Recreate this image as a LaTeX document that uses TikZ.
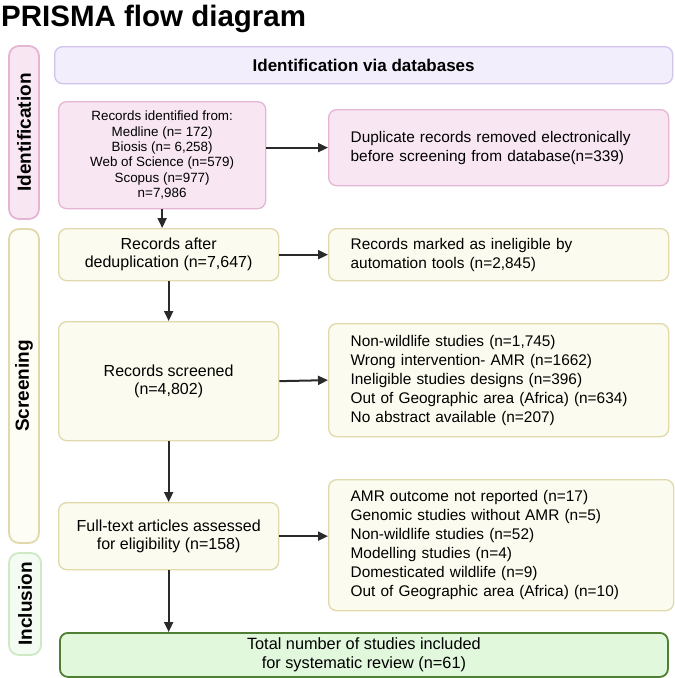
\documentclass[tikz,border=0pt]{standalone}
\usepackage{fontspec}
\setmainfont{Liberation Sans}
\usetikzlibrary{arrows.meta}

\definecolor{idfill}{HTML}{F8E7F2}
\definecolor{iddraw}{HTML}{E4B6D4}
\definecolor{hdfill}{HTML}{F2EEFB}
\definecolor{hddraw}{HTML}{D3C3EF}
\definecolor{scfill}{HTML}{FBFBEF}
\definecolor{scdraw}{HTML}{E1D9AB}
\definecolor{infill}{HTML}{E1F8DD}
\definecolor{indraw}{HTML}{4F7F33}
\definecolor{inband}{HTML}{CDEAC5}
\definecolor{inbandfill}{HTML}{F4FBF2}
\definecolor{arrowgray}{HTML}{2A2A2A}

\begin{document}
\begin{tikzpicture}[x=1pt, y=-1pt,
    >={Triangle[length=10pt,width=9pt]},
    box/.style={draw, rounded corners=8pt, line width=1.3pt, inner sep=0pt,
      align=center, anchor=north west},
    idbox/.style={box, draw=iddraw, fill=idfill},
    scbox/.style={box, draw=scdraw, fill=scfill},
    lefttext/.style={align=left, inner xsep=22pt, text width=#1},
    band/.style={draw, rounded corners=10pt, line width=1.8pt, rotate=90,
      inner sep=0pt, font=\bfseries\fontsize{19}{22}\selectfont},
    flow/.style={->, line width=2pt, draw=arrowgray, fill=arrowgray},
    lbody/.style={font=\fontsize{16}{18}\selectfont},
    rbody/.style={font=\fontsize{15.4}{19}\selectfont}]
    \useasboundingbox (0,0) rectangle (675,678);
    % --- title ---
    \node[anchor=base west, inner sep=0pt, font=\bfseries\fontsize{29.5}{32}\selectfont]
        (title) at (1,26) {PRISMA flow diagram};
    % --- side bands (Identification / Screening / Inclusion) ---
    \node[band, draw=iddraw, fill=idfill, minimum width=173pt, minimum height=30pt]
        (bandid) at (24,132.5) {Identification};
    \node[band, draw=scdraw, fill=scfill!60!white, minimum width=314pt, minimum height=30pt]
        (bandsc) at (24,386) {Screening};
    \node[band, draw=inband, fill=inbandfill, minimum width=102pt, minimum height=32pt]
        (bandin) at (25,604) {Inclusion};
    % --- header ---
    \node[box, draw=hddraw, fill=hdfill, minimum width=618pt, minimum height=37pt,
        font=\bfseries\fontsize{17}{20}\selectfont]
        (header) at (54,46) {Identification via databases};
    % --- identification row ---
    \node[idbox, minimum width=207pt, minimum height=107pt,
        font=\fontsize{13.4}{15.4}\selectfont]
        (records) at (58,101) {Records identified from:\\Medline (n= 172)\\Biosis (n= 6,258)\\
        Web of Science (n=579)\\Scopus (n=977)\\n=7,986};
    \node[idbox, lefttext=296pt, minimum height=76pt, rbody]
        (dup) at (328,109) {Duplicate records removed electronically\\
        before screening from database(n=339)};
    % --- screening rows ---
    \node[scbox, minimum width=220pt, minimum height=52pt, lbody]
        (dedup) at (58,228) {Records after\\deduplication (n=7,647)};
    \node[scbox, lefttext=296pt, minimum height=52pt, rbody]
        (auto) at (328,228) {Records marked as ineligible by\\automation tools (n=2,845)};
    \node[scbox, minimum width=220pt, minimum height=119pt, lbody]
        (screened) at (58,321) {Records screened\\(n=4,802)};
    \node[scbox, lefttext=296pt, minimum height=113pt, rbody]
        (excl1) at (328,323) {Non-wildlife studies (n=1,745)\\Wrong intervention- AMR (n=1662)\\
        Ineligible studies designs (n=396)\\Out of Geographic area (Africa) (n=634)\\
        No abstract available (n=207)};
    \node[scbox, minimum width=220pt, minimum height=67pt, lbody]
        (fulltext) at (58,502) {Full-text articles assessed\\for eligibility (n=158)};
    \node[scbox, lefttext=301pt, minimum height=131pt, rbody]
        (excl2) at (328,479) {AMR outcome not reported (n=17)\\Genomic studies without AMR (n=5)\\
        Non-wildlife studies (n=52)\\Modelling studies (n=4)\\Domesticated wildlife (n=9)\\
        Out of Geographic area (Africa) (n=10)};
    % --- inclusion ---
    \node[box, draw=indraw, fill=infill, line width=1.8pt, minimum width=608pt,
        minimum height=44pt, font=\fontsize{16.3}{19}\selectfont]
        (total) at (59,632) {Total number of studies included\\for systematic review (n=61)};
    % --- arrows ---
    \draw[flow] (records.east |- dup.west) -- (dup.west);
    \draw[flow] (records.south) -- (records.south |- dedup.north);
    \draw[flow] (dedup.east) -- (auto.west);
    \draw[flow] (dedup.south) -- (screened.north);
    \draw[flow] (screened.east) -- (excl1.west);
    \draw[flow] (screened.south) -- (fulltext.north);
    \draw[flow] (fulltext.east) -- (fulltext.east -| excl2.west);
    \draw[flow] (fulltext.south) -- (fulltext.south |- total.north);
\end{tikzpicture}
\end{document}
